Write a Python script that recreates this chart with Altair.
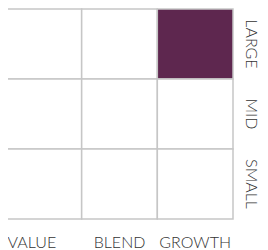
import altair as alt
import pandas as pd

styles = ["VALUE", "BLEND", "GROWTH"]
sizes = ["LARGE", "MID", "SMALL"]
# weight per (size, style) cell, row by row
weights = [
    [0, 0, 1],
    [0, 0, 0],
    [0, 0, 0],
]

rows = []
for i, s in enumerate(sizes):
    for j, st in enumerate(styles):
        rows.append({"style": st, "size": s, "weight": weights[i][j]})
df = pd.DataFrame(rows)

FONT = "Lato"

chart = alt.Chart(df).mark_rect(stroke="#c6c6c6", strokeWidth=1.5).encode(
    x=alt.X("style:N", sort=styles, title=None,
            scale=alt.Scale(paddingInner=0, paddingOuter=0),
            axis=alt.Axis(orient="bottom", domain=False, ticks=False, labelAngle=0,
                          labelFont=FONT, labelFontSize=16, labelFontWeight=300,
                          labelColor="#333333", labelPadding=15,
                          labelOffset={"condition": {"test": "datum.label == 'VALUE'", "value": -12}, "value": 0})),
    y=alt.Y("size:N", sort=sizes, title=None,
            scale=alt.Scale(paddingInner=0, paddingOuter=0),
            axis=alt.Axis(orient="right", domain=False, ticks=False, labelAngle=90,
                          labelFont=FONT, labelFontSize=16, labelFontWeight=300,
                          labelColor="#333333", labelPadding=9)),
    color=alt.condition("datum.weight > 0", alt.value("#5e274f"), alt.value("#ffffff")),
).properties(
    width=227, height=210,
    autosize=alt.AutoSizeParams(type="none"),
    padding={"left": -2, "top": 1, "right": 27, "bottom": 31},
).configure_view(stroke=None)

chart.save("out.html", embed_options={"renderer": "svg", "actions": False})
